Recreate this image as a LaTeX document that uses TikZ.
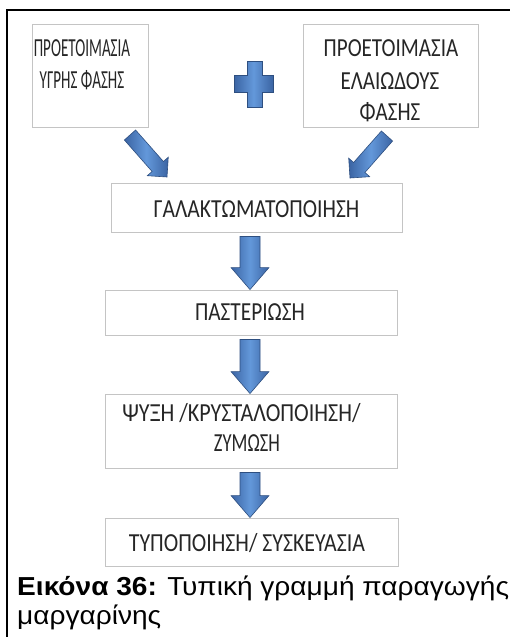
\documentclass[tikz,border=0pt]{standalone}
\usepackage{fontspec}
\usetikzlibrary{calc}
\newfontfamily\boxfont{Carlito}
\newfontfamily\capfont{Liberation Sans}
\definecolor{boxline}{HTML}{C4C4C4}
\definecolor{boxtext}{HTML}{262626}
\definecolor{arrlight}{HTML}{6398DA}
\definecolor{arrdark}{HTML}{3B64A3}
\definecolor{arrline}{HTML}{2E4F80}
\tikzset{
  stepbox/.style={draw=boxline, line width=0.9pt, fill=white, rectangle, inner sep=0pt},
  steptext/.style={inner sep=0pt, anchor=base, font=\boxfont\fontsize{26}{32}\selectfont,
    text=boxtext, align=center},
  blockarrow/.style={draw=arrline, line width=0.6pt,
    left color=arrdark, right color=arrdark, middle color=arrlight},
  captext/.style={inner sep=0pt, anchor=base west, text=black,
    font=\capfont\fontsize{26}{29}\selectfont, xscale=1.08},
}
% vertical block arrow from the bottom of #1 to the top of #2
\newcommand\flowdown[2]{%
  \path[blockarrow] let \p1=(#1.south), \p2=(#2.north) in
    (240pt,\y1-4pt) -- (260pt,\y1-4pt) -- (260pt,\y2+22pt) -- (269pt,\y2+22pt)
    -- (250pt,\y2) -- (231pt,\y2+22pt) -- (240pt,\y2+22pt) -- cycle;}
\begin{document}
\begin{tikzpicture}[x=1pt,y=-1pt]
\useasboundingbox (0,0) rectangle (510,637);
\fill[white] (0,0) rectangle (510,637);
% outer frame
\draw[line width=2pt, black] (7,637) -- (7,10) -- (510,10);
% boxes
\node[stepbox, minimum width=116pt, minimum height=103pt] (b1) at (90,75.5) {};
\node[stepbox, minimum width=175pt, minimum height=103pt] (b2) at (390.5,75.5) {};
\node[stepbox, minimum width=291pt, minimum height=49pt] (b3) at (256.5,207.5) {};
\node[stepbox, minimum width=292pt, minimum height=45pt] (b4) at (251,312.5) {};
\node[stepbox, minimum width=292pt, minimum height=74pt] (b5) at (251,431) {};
\node[stepbox, minimum width=293pt, minimum height=48pt] (b6) at (251.5,542) {};
% box texts
\node[steptext, xscale=0.58] (t1a) at (82,56) {ΠΡΟΕΤΟΙΜΑΣΙΑ};
\node[steptext, xscale=0.58] (t1b) at (82,88) {ΥΓΡΗΣ ΦΑΣΗΣ};
\node[steptext, xscale=0.81] (t2a) at (391,56) {ΠΡΟΕΤΟΙΜΑΣΙΑ};
\node[steptext, xscale=0.81] (t2b) at (390,89) {ΕΛΑΙΩΔΟΥΣ};
\node[steptext, xscale=0.81] (t2c) at (390,120) {ΦΑΣΗΣ};
\node[steptext, xscale=0.83] (t3) at (256.5,217) {ΓΑΛΑΚΤΩΜΑΤΟΠΟΙΗΣΗ};
\node[steptext, xscale=0.82] (t4) at (250,320) {ΠΑΣΤΕΡΙΩΣΗ};
\node[steptext, xscale=0.85] (t5a) at (241.5,421) {ΨΥΞΗ /ΚΡΥΣΤΑΛΟΠΟΙΗΣΗ/};
\node[steptext, xscale=0.714] (t5b) at (247,451) {ΖΥΜΩΣΗ};
\node[steptext, xscale=0.84] (t6) at (247,551) {ΤΥΠΟΠΟΙΗΣΗ/ ΣΥΣΚΕΥΑΣΙΑ};
% plus sign
\path[blockarrow]
  (247,61) -- (262,61) -- (262,75) -- (273,75) -- (273,92) -- (262,92) -- (262,107)
  -- (247,107) -- (247,92) -- (234,92) -- (234,75) -- (247,75) -- cycle;
% diagonal arrows into the emulsification box
\path[blockarrow] (124.4,140.0) -- (152.1,171.5) -- (147.3,175.7) -- (167,177)
  -- (168.3,157.2) -- (163.4,161.5) -- (135.6,130.0) -- cycle;
\path[blockarrow] (392.6,141.0) -- (364.9,172.5) -- (369.7,176.7) -- (350,178)
  -- (348.7,158.2) -- (353.6,162.5) -- (381.4,131.0) -- cycle;
% vertical arrows
\flowdown{b3}{b4}
\flowdown{b4}{b5}
\flowdown{b5}{b6}
% caption
\node[captext] (cap1) at (17,595) {\textbf{Εικόνα 36:} Τυπική γραμμή παραγωγής};
\node[captext] (cap2) at (17,624) {μαργαρίνης};
\end{tikzpicture}
\end{document}
